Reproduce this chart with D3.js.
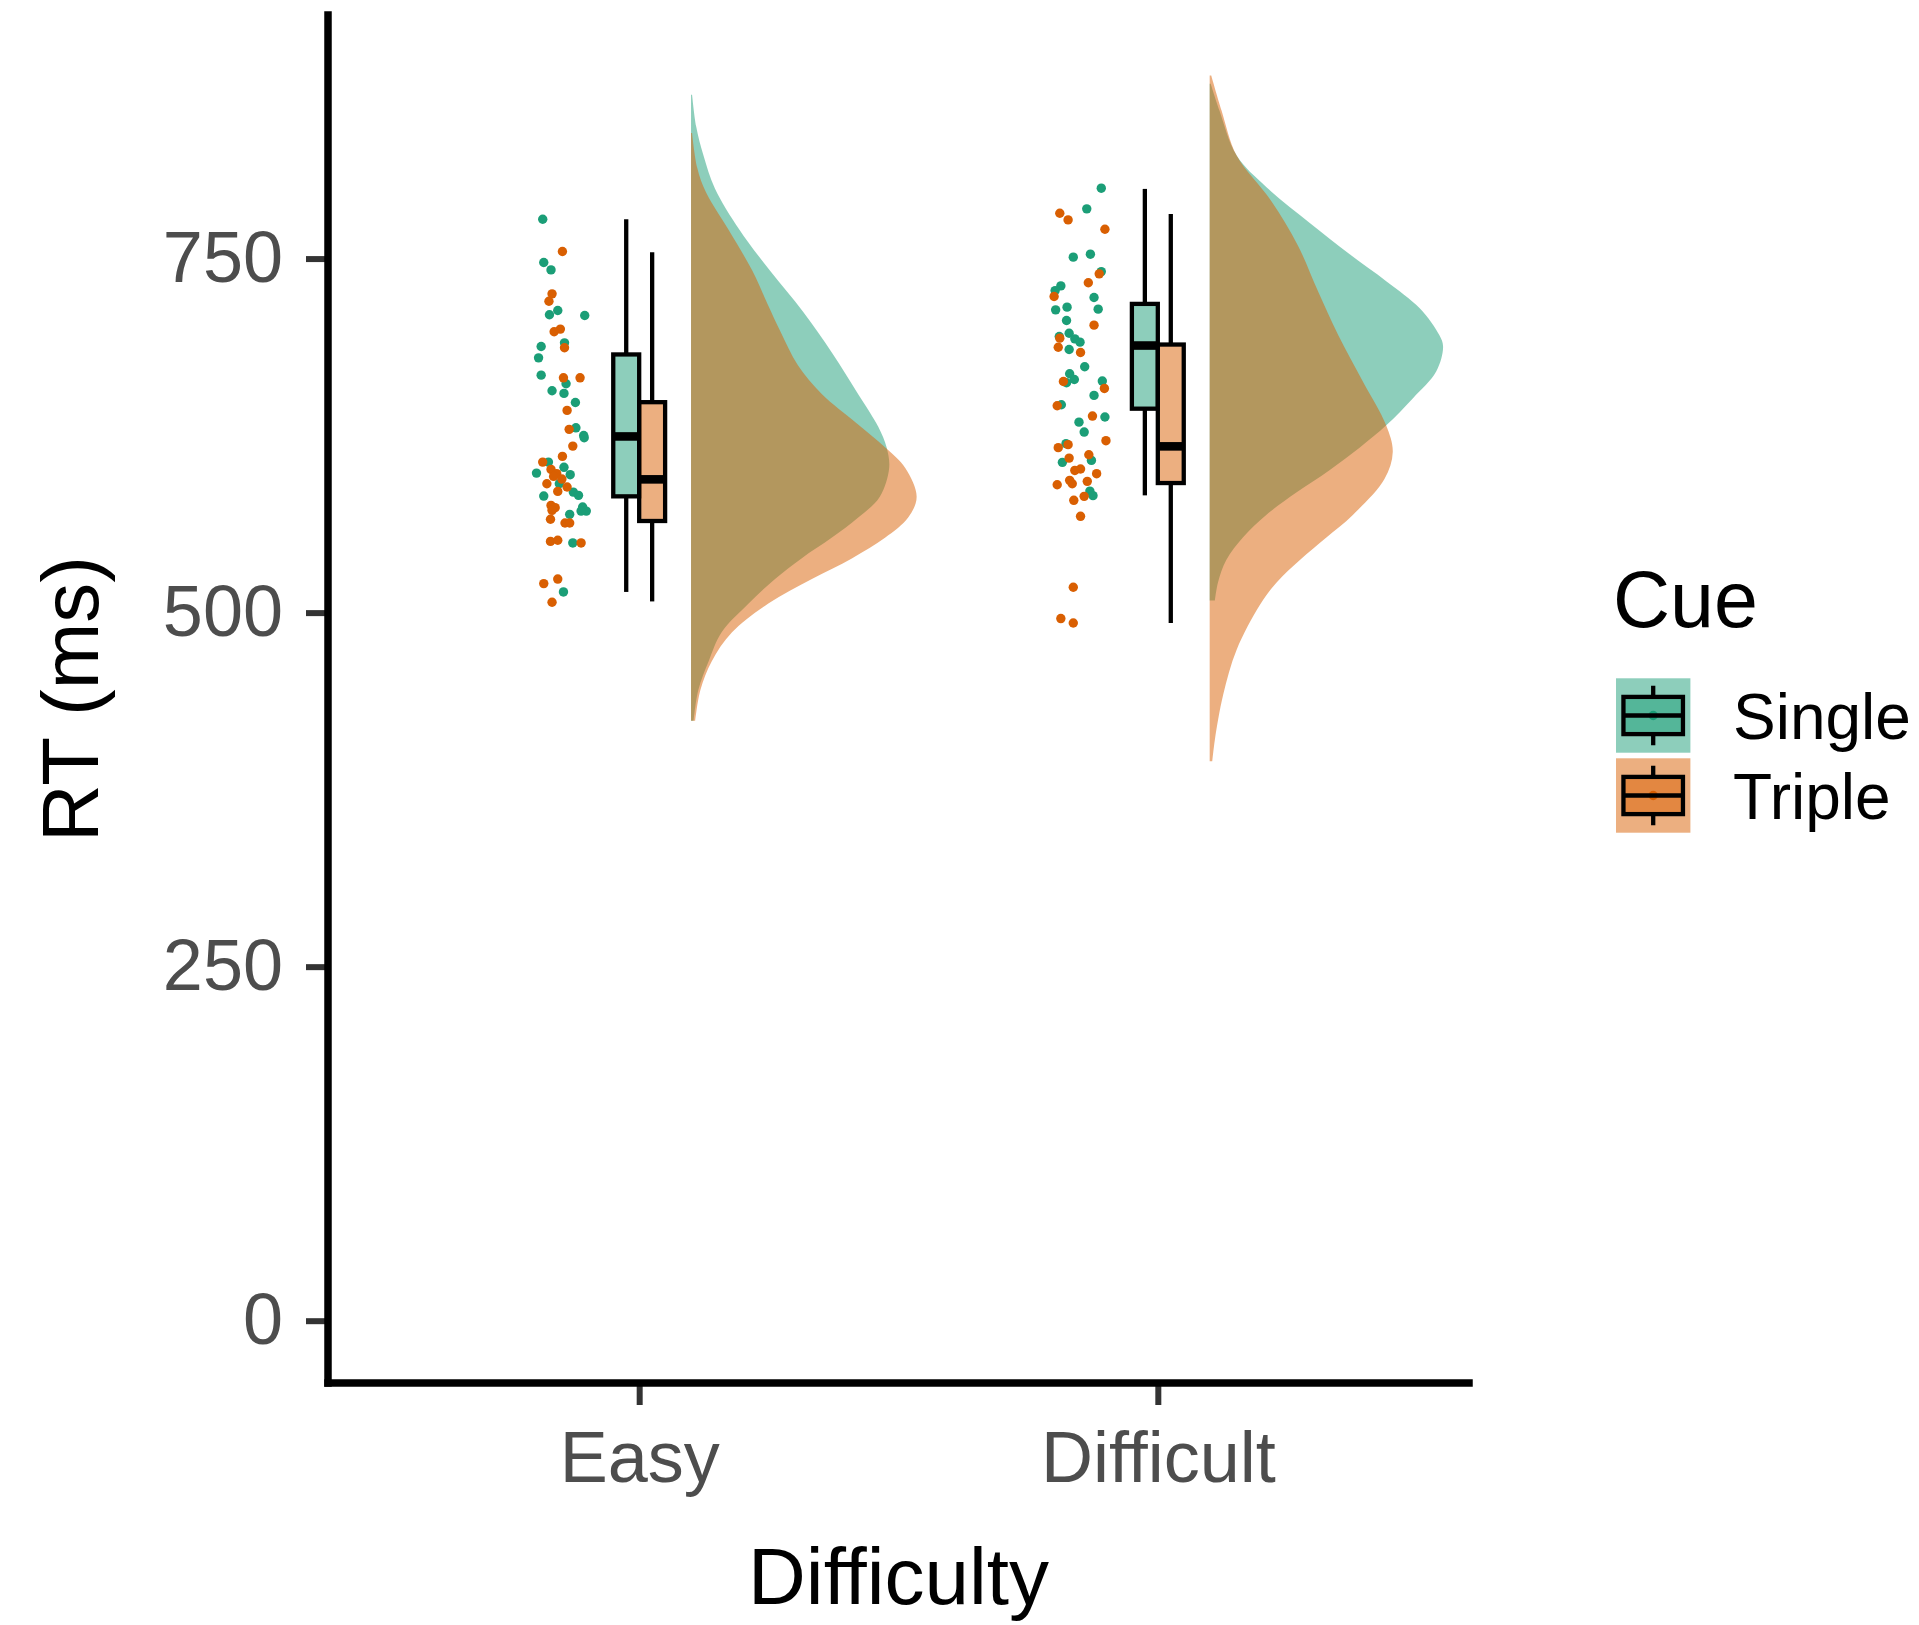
<!DOCTYPE html>
<html>
<head>
<meta charset="utf-8">
<script src="https://cdn.jsdelivr.net/npm/d3@7"></script>
<style>
  html, body { margin: 0; padding: 0; background: #ffffff; }
  svg { display: block; }
  text { font-family: "Liberation Sans", Arial, Helvetica, sans-serif; }
</style>
</head>
<body>
<svg id="chart" width="1919" height="1625"></svg>
<script>
// ---------------- DATA ----------------
const categories = ["Easy", "Difficult"];
const cues = ["Single", "Triple"];
const yTicks = [0, 250, 500, 750];
const xTitle = "Difficulty";
const yTitle = "RT (ms)";
const legendTitle = "Cue";

// jittered raw points: [x offset from category, RT]
const easySinglePts = [[-0.186,777.8],[-0.184,747.2],[-0.170,742.0],[-0.157,713.3],[-0.173,710.3],[-0.105,709.8],[-0.144,690.5],[-0.189,687.9],[-0.194,679.9],[-0.189,667.7],[-0.141,661.6],[-0.168,656.7],[-0.145,654.8],[-0.123,648.4],[-0.122,630.5],[-0.107,625.1],[-0.106,623.5],[-0.175,606.3],[-0.145,602.6],[-0.198,598.5],[-0.133,597.4],[-0.154,591.0],[-0.127,585.1],[-0.117,582.8],[-0.184,582.3],[-0.109,574.6],[-0.102,571.7],[-0.112,571.7],[-0.134,569.4],[-0.128,549.2],[-0.146,514.6]];
const easyTriplePts = [[-0.148,755.0],[-0.168,725.1],[-0.174,719.9],[-0.152,700.2],[-0.164,698.3],[-0.144,687.0],[-0.146,665.8],[-0.114,665.8],[-0.139,642.8],[-0.135,629.4],[-0.128,617.6],[-0.148,610.3],[-0.186,606.3],[-0.170,601.1],[-0.159,598.1],[-0.165,596.2],[-0.149,594.3],[-0.178,591.0],[-0.139,588.7],[-0.157,585.6],[-0.170,575.7],[-0.162,574.1],[-0.168,572.2],[-0.171,565.9],[-0.143,563.3],[-0.134,563.3],[-0.171,550.3],[-0.157,551.1],[-0.112,549.2],[-0.184,520.5],[-0.157,523.7],[-0.168,507.3]];
const difficultSinglePts = [[-0.109,799.7],[-0.137,785.1],[-0.163,751.0],[-0.130,753.1],[-0.109,740.8],[-0.187,730.7],[-0.198,727.4],[-0.123,722.5],[-0.175,715.7],[-0.197,713.8],[-0.115,714.3],[-0.176,706.3],[-0.171,697.3],[-0.190,695.0],[-0.160,693.3],[-0.150,691.0],[-0.171,685.8],[-0.141,673.6],[-0.170,668.7],[-0.161,664.6],[-0.176,662.3],[-0.107,663.5],[-0.123,653.4],[-0.186,646.8],[-0.102,638.1],[-0.152,634.5],[-0.142,627.5],[-0.177,619.3],[-0.184,606.1],[-0.128,607.5],[-0.131,585.8],[-0.125,582.6]];
const difficultTriplePts = [[-0.189,782.0],[-0.173,777.3],[-0.102,770.7],[-0.113,739.2],[-0.134,732.9],[-0.200,723.2],[-0.123,703.0],[-0.189,693.8],[-0.192,687.4],[-0.149,683.7],[-0.182,663.2],[-0.103,658.3],[-0.194,646.1],[-0.126,638.8],[-0.100,621.4],[-0.192,616.5],[-0.173,618.6],[-0.171,609.1],[-0.133,611.5],[-0.149,601.4],[-0.160,600.4],[-0.118,598.1],[-0.170,593.4],[-0.165,591.0],[-0.136,592.7],[-0.194,590.3],[-0.142,582.1],[-0.162,579.3],[-0.149,568.0],[-0.163,517.9],[-0.187,495.8],[-0.163,492.7]];

// boxplot stats: [lower whisker, Q1, median, Q3, upper whisker]
const easySingleBox = [514.6, 582.1, 624.4, 682.3, 777.8];
const easyTripleBox = [507.9, 564.7, 594.1, 648.6, 754.5];
const difficultSingleBox = [582.8, 644.0, 688.6, 718.0, 799.2];
const difficultTripleBox = [492.7, 591.5, 617.4, 689.3, 781.5];

// half-violin density outlines: [RT, scaled half-width in category units]
const easySingleDens = [[865.7,0.002],[843.1,0.010],[822.7,0.024],[799.5,0.046],[770.5,0.093],[741.5,0.152],[712.5,0.216],[683.4,0.272],[654.4,0.322],[631.2,0.361],[616.7,0.377],[602.1,0.382],[581.8,0.364],[567.3,0.323],[552.8,0.271],[538.3,0.213],[523.8,0.162],[506.4,0.111],[486.1,0.059],[465.7,0.034],[445.4,0.014],[423.7,0.005]];
const easyTripleDens = [[838.7,0.002],[814.0,0.012],[796.6,0.029],[770.5,0.072],[741.5,0.118],[718.3,0.147],[697.9,0.173],[674.7,0.206],[654.4,0.252],[634.1,0.318],[616.7,0.374],[602.1,0.413],[581.8,0.435],[567.3,0.419],[552.8,0.374],[538.3,0.310],[523.8,0.233],[506.4,0.149],[486.1,0.079],[465.7,0.040],[445.4,0.018],[423.7,0.008]];
const difficultSingleDens = [[873.5,0.002],[854.4,0.019],[822.7,0.052],[800.5,0.109],[775.1,0.193],[753.0,0.270],[733.9,0.341],[714.9,0.405],[695.8,0.443],[687.9,0.450],[670.4,0.437],[651.4,0.392],[632.4,0.341],[616.5,0.289],[600.6,0.231],[584.8,0.167],[569.0,0.109],[553.1,0.064],[537.2,0.032],[521.3,0.016],[508.6,0.010]];
const difficultTripleDens = [[879.2,0.003],[854.4,0.023],[822.7,0.052],[791.0,0.118],[759.3,0.170],[727.6,0.208],[695.8,0.248],[664.1,0.294],[632.4,0.340],[613.4,0.353],[594.3,0.337],[569.0,0.276],[553.1,0.225],[537.2,0.174],[521.3,0.129],[505.5,0.097],[473.8,0.052],[442.0,0.026],[410.3,0.010],[395.1,0.005]];

// ---------------- LAYOUT / STYLE ----------------
const W = 1919, H = 1625;
const panel = { left: 328, right: 1469, top: 15, bottom: 1383 };
const colors = { Single: "#1b9e77", Triple: "#d95f02" };
const boxOffset = { Single: -0.025, Triple: 0.025 };
const boxWidth = 0.05;
const densOffset = 0.1;
const boxStroke = 4.3;

const groups = [
  { cat: 0, cue: "Single", pts: easySinglePts, box: easySingleBox, dens: easySingleDens },
  { cat: 0, cue: "Triple", pts: easyTriplePts, box: easyTripleBox, dens: easyTripleDens },
  { cat: 1, cue: "Single", pts: difficultSinglePts, box: difficultSingleBox, dens: difficultSingleDens },
  { cat: 1, cue: "Triple", pts: difficultTriplePts, box: difficultTripleBox, dens: difficultTripleDens }
];

const svg = d3.select("#chart");
svg.append("rect").attr("width", W).attr("height", H).attr("fill", "#ffffff");

const x = d3.scaleLinear().domain([0.4, 2.6]).range([panel.left, panel.right]);
const y = d3.scaleLinear().domain([-44, 922]).range([panel.bottom, panel.top]);
const catPos = i => i + 1;

// densities (half violins)
const gDens = svg.append("g");
["Single", "Triple"].forEach(cue => {
  groups.filter(g => g.cue === cue).forEach(g => {
    const base = catPos(g.cat) + densOffset;
    const area = d3.area()
      .curve(d3.curveCatmullRom.alpha(0.5))
      .y(d => y(d[0]))
      .x0(() => x(base))
      .x1(d => x(base + d[1]));
    gDens.append("path")
      .attr("d", area(g.dens))
      .attr("fill", colors[g.cue])
      .attr("fill-opacity", 0.5)
      .attr("stroke", "none");
  });
});

// points
const gPts = svg.append("g");
["Single", "Triple"].forEach(cue => {
  groups.filter(g => g.cue === cue).forEach(g => {
    gPts.selectAll(null).data(g.pts).enter().append("circle")
      .attr("cx", d => x(catPos(g.cat) + d[0]))
      .attr("cy", d => y(d[1]))
      .attr("r", 4.7)
      .attr("fill", colors[g.cue]);
  });
});

// boxplots
const gBox = svg.append("g");
groups.forEach(g => {
  const c = catPos(g.cat) + boxOffset[g.cue];
  const [lw, q1, med, q3, uw] = g.box;
  const xl = x(c - boxWidth / 2), xr = x(c + boxWidth / 2), xc = x(c);
  gBox.append("line").attr("x1", xc).attr("x2", xc).attr("y1", y(uw)).attr("y2", y(q3))
    .attr("stroke", "#000").attr("stroke-width", boxStroke);
  gBox.append("line").attr("x1", xc).attr("x2", xc).attr("y1", y(q1)).attr("y2", y(lw))
    .attr("stroke", "#000").attr("stroke-width", boxStroke);
  gBox.append("rect").attr("x", xl).attr("y", y(q3)).attr("width", xr - xl).attr("height", y(q1) - y(q3))
    .attr("fill", colors[g.cue]).attr("fill-opacity", 0.5)
    .attr("stroke", "#000").attr("stroke-width", boxStroke);
  gBox.append("line").attr("x1", xl).attr("x2", xr).attr("y1", y(med)).attr("y2", y(med))
    .attr("stroke", "#000").attr("stroke-width", boxStroke * 2);
});

// axes
const yAxis = d3.axisLeft(y).tickValues(yTicks).tickSize(22).tickPadding(23).tickFormat(d3.format("d"));
const gy = svg.append("g").attr("transform", `translate(${panel.left},0)`).call(yAxis);
gy.select(".domain").remove();
gy.selectAll(".tick line").attr("stroke", "#333333").attr("stroke-width", 6);
gy.selectAll(".tick text").attr("fill", "#4d4d4d").style("font-size", "72px")
  .style("font-family", "'Liberation Sans', Arial, sans-serif");

const xAxis = d3.axisBottom(x).tickValues(categories.map((c, i) => catPos(i)))
  .tickFormat((d, i) => categories[i]).tickSize(22).tickPadding(26);
const gx = svg.append("g").attr("transform", `translate(0,${panel.bottom})`).call(xAxis);
gx.select(".domain").remove();
gx.selectAll(".tick line").attr("stroke", "#333333").attr("stroke-width", 6);
gx.selectAll(".tick text").attr("fill", "#4d4d4d").style("font-size", "72px")
  .style("font-family", "'Liberation Sans', Arial, sans-serif");

// axis lines
svg.append("line").attr("x1", panel.left).attr("x2", panel.left).attr("y1", panel.top).attr("y2", panel.bottom)
  .attr("stroke", "#000").attr("stroke-width", 7.5).attr("stroke-linecap", "square");
svg.append("line").attr("x1", panel.left).attr("x2", panel.right).attr("y1", panel.bottom).attr("y2", panel.bottom)
  .attr("stroke", "#000").attr("stroke-width", 7.5).attr("stroke-linecap", "square");

// axis titles
svg.append("text").attr("x", (panel.left + panel.right) / 2).attr("y", 1604)
  .attr("text-anchor", "middle").attr("fill", "#000").style("font-size", "80px").text(xTitle);
svg.append("text").attr("transform", `translate(98,${(panel.top + panel.bottom) / 2}) rotate(-90)`)
  .attr("text-anchor", "middle").attr("fill", "#000").style("font-size", "80px").text(yTitle);

// legend
const lg = svg.append("g").attr("transform", "translate(1616,0)");
lg.append("text").attr("x", -3).attr("y", 627).attr("fill", "#000").style("font-size", "79px").text(legendTitle);
const keySize = 74.4, keyTop = 678.3, keyGap = 5.6;
cues.forEach((cue, i) => {
  const ky = keyTop + i * (keySize + keyGap);
  const k = lg.append("g").attr("transform", `translate(0,${ky})`);
  k.append("rect").attr("width", keySize).attr("height", keySize)
    .attr("fill", colors[cue]).attr("fill-opacity", 0.5);
  k.append("circle").attr("cx", keySize / 2).attr("cy", keySize / 2).attr("r", 4.7).attr("fill", colors[cue]);
  const bx0 = keySize * 0.1, bx1 = keySize * 0.9, cx = keySize / 2;
  k.append("line").attr("x1", cx).attr("x2", cx).attr("y1", keySize * 0.1).attr("y2", keySize * 0.25)
    .attr("stroke", "#000").attr("stroke-width", boxStroke);
  k.append("line").attr("x1", cx).attr("x2", cx).attr("y1", keySize * 0.75).attr("y2", keySize * 0.9)
    .attr("stroke", "#000").attr("stroke-width", boxStroke);
  k.append("rect").attr("x", bx0).attr("y", keySize * 0.25).attr("width", bx1 - bx0).attr("height", keySize * 0.5)
    .attr("fill", colors[cue]).attr("fill-opacity", 0.5).attr("stroke", "#000").attr("stroke-width", boxStroke);
  k.append("line").attr("x1", bx0).attr("x2", bx1).attr("y1", keySize / 2).attr("y2", keySize / 2)
    .attr("stroke", "#000").attr("stroke-width", boxStroke);
  k.append("text").attr("x", 117).attr("y", keySize / 2).attr("dy", "0.36em")
    .attr("fill", "#000").style("font-size", "64px").text(cue);
});
</script>
</body>
</html>
